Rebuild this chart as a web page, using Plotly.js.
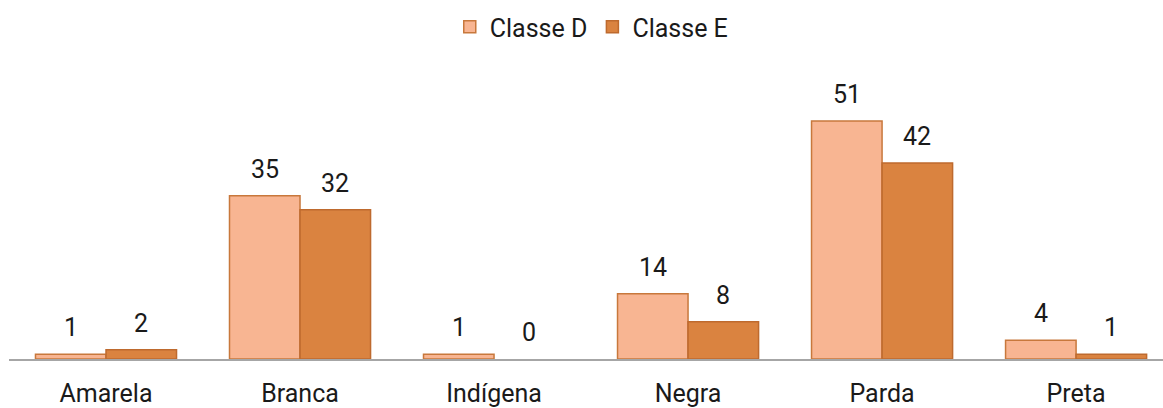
<!DOCTYPE html>
<html><head><meta charset="utf-8">
<script src="https://cdn.plot.ly/plotly-3.0.1.min.js"></script>
<style>html,body{margin:0;padding:0;background:#fff}#c{width:1163px;height:408px}</style>
</head><body><div id="c"></div>
<script>
const categories = ["Amarela", "Branca", "Indígena", "Negra", "Parda", "Preta"];
const classeD = [1, 35, 1, 14, 51, 4];
const classeE = [2, 32, 0, 8, 42, 1];
const seriesNames = ["Classe D", "Classe E"];

const FONT = "Roboto, 'Open Sans', sans-serif";
const txtColor = "#1a1a1a";
const FS = 25;

function lineWidths(vals) { return vals.map(v => v === 0 ? 0 : 1.5); }

const traces = [
  {type: "bar", name: seriesNames[0], x: categories, y: classeD,
   marker: {color: "#F8B592", line: {color: "#C8783C", width: lineWidths(classeD)}}},
  {type: "bar", name: seriesNames[1], x: categories, y: classeE,
   marker: {color: "#DA8340", line: {color: "#BE6A2E", width: lineWidths(classeE)}}}
];

const annotations = [];
[classeD, classeE].forEach((vals, si) => {
  vals.forEach((v, i) => {
    annotations.push({x: categories[i], y: v, xref: "x", yref: "y",
      text: String(v), showarrow: false, yanchor: "bottom",
      xshift: si === 0 ? -35 : 35, yshift: 10,
      font: {family: FONT, size: FS, color: txtColor}});
  });
});

const layout = {
  width: 1163, height: 408,
  margin: {l: 9, r: 0, t: 60, b: 49},
  paper_bgcolor: "#fff", plot_bgcolor: "#fff",
  font: {family: FONT, size: FS, color: txtColor},
  barmode: "group", bargap: 0.273, bargroupgap: 0,
  showlegend: true,
  legend: {orientation: "h", x: 0.505, xanchor: "center", y: 1.11, yanchor: "middle",
    font: {family: FONT, size: FS, color: txtColor}, traceorder: "normal",
    itemwidth: 30, tracegroupgap: 0},
  xaxis: {type: "category", range: [-0.5, 5.448], showline: true, linecolor: "#A6A6A6", linewidth: 1.5,
    showgrid: false, zeroline: false, ticks: "outside", ticklen: 11, tickcolor: "rgba(0,0,0,0)",
    tickfont: {family: FONT, size: FS, color: txtColor}},
  yaxis: {range: [0, 64.07], visible: false, showgrid: false, zeroline: false},
  annotations: annotations
};

Plotly.newPlot("c", traces, layout, {displayModeBar: false, staticPlot: true});
</script>
</body></html>
